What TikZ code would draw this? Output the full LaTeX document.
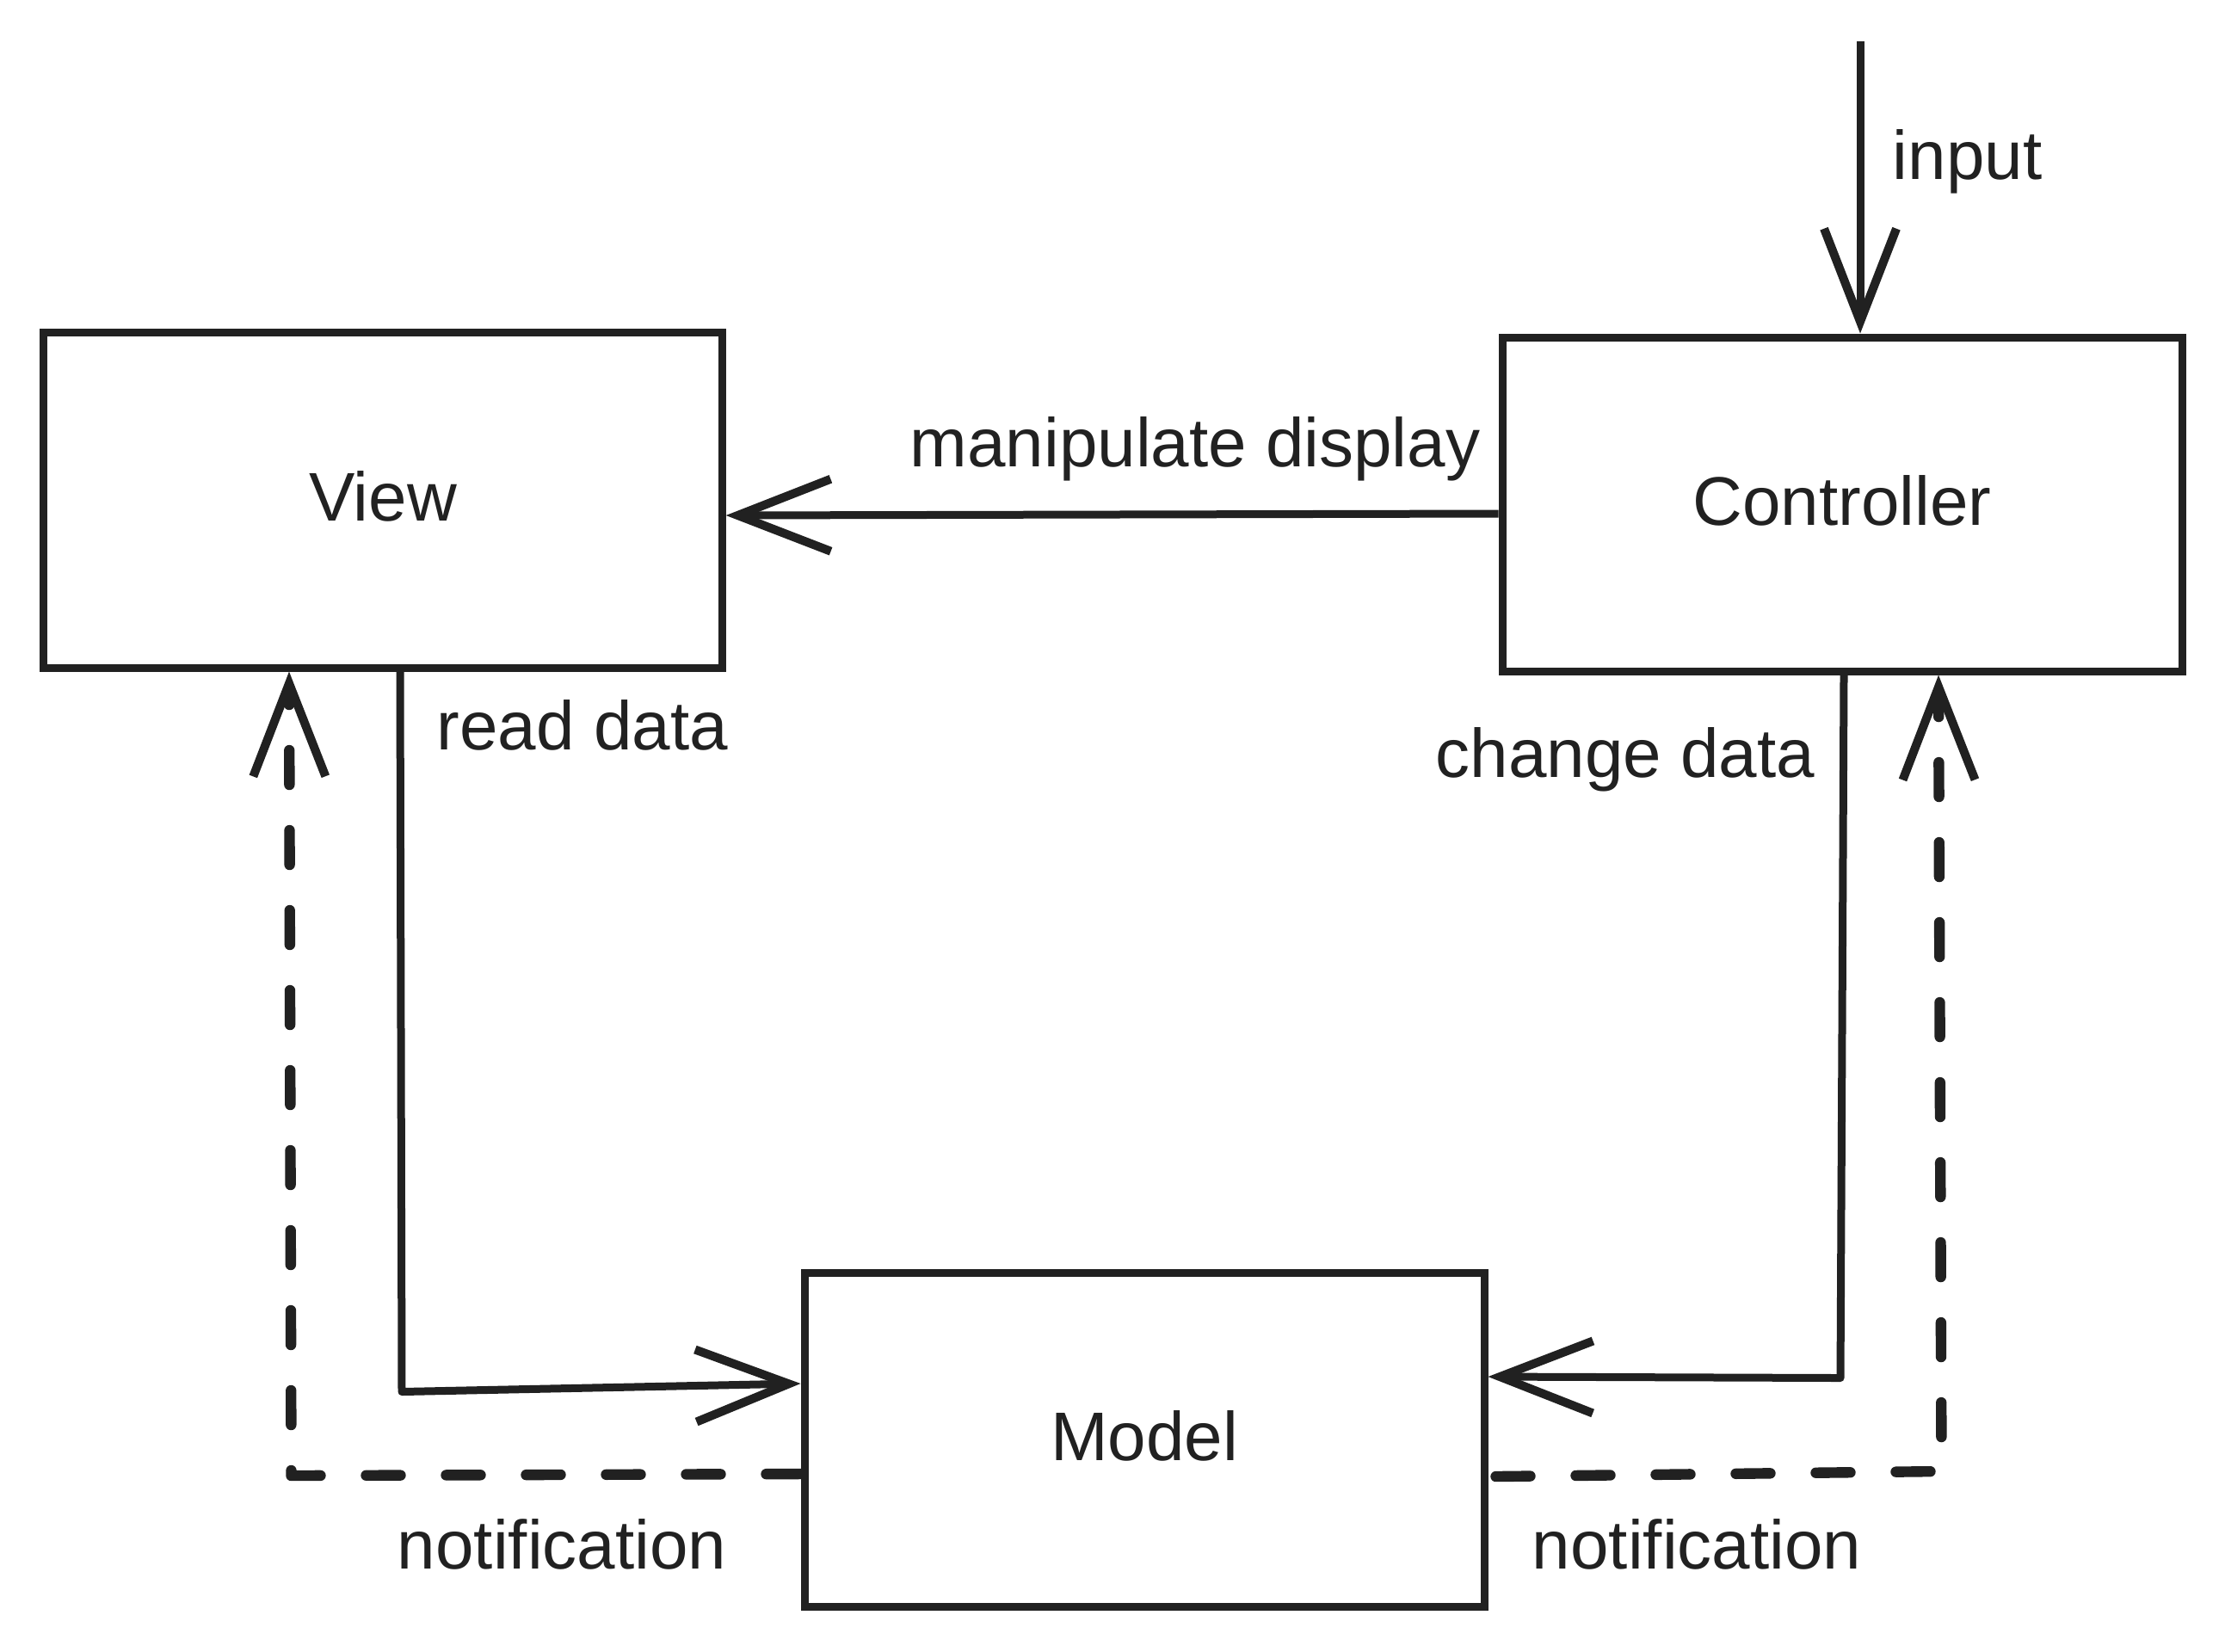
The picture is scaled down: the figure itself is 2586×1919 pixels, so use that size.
\documentclass[tikz,border=0pt]{standalone}
\usepackage{fontspec}
\setmainfont{Liberation Sans}
\usetikzlibrary{arrows.meta,calc}
\definecolor{ink}{RGB}{33,33,33}
\begin{document}
\begin{tikzpicture}[x=0.25pt,y=-0.25pt,
  box/.style={draw=ink, line width=2.25pt, minimum width=197.5pt, minimum height=97pt, inner sep=0pt, text height=12pt, text depth=0pt, font=\fontsize{20pt}{24pt}\selectfont, text=ink},
  lbl/.style={inner sep=0pt, anchor=base west, font=\fontsize{20pt}{24pt}\selectfont, text=ink},
  tipend/.style={-{Straight Barb[length=27pt,width=21pt,line width=2.5pt]}},
  conn/.style={draw=ink, line width=2.25pt, line join=round, tipend},
  notif/.style={draw=ink, line width=3.1pt, line cap=round, line join=round, dash pattern=on 10pt off 13.25pt, tipend}]
\useasboundingbox (0,0) rectangle (2586,1919);

% boxes
\node[box, minimum width=197.1pt, minimum height=97.5pt] (view) at (445,581) {View};
\node[box] (ctrl) at (2141,586) {Controller};
\node[box] (model) at (1330,1673) {Model};

% input
\coordinate (inp) at (2162,48);
\draw[conn] (inp) -- (inp |- ctrl.north);

% manipulate display
\draw[conn] ($(ctrl.west)+(0,11)$) -- ($(view.east)+(0,18)$);

% read data
\draw[conn] ($(view.south)+(20,0)$) -- ++(2,837) -- ($(model.west)+(0,-65)$);

% change data
\draw[conn] ($(ctrl.south)+(2,0)$) -- ++(-4,817) -- ($(model.east)+(0,-73)$);

% notifications
\draw[notif] ($(model.west)+(0,40)$) -- ++(-592,2) -- ($(view.south)+(-109,0)$);
\draw[notif] ($(model.east)+(9,43)$) -- ++(518,-6) -- ($(ctrl.south)+(112,0)$);

% labels
\node[lbl] (linput) at (2199,208) {input};
\node[lbl] (lmanip) at (1057,542) {manipulate display};
\node[lbl] (lread) at (507,871) {read data};
\node[lbl] (lchange) at (1668,903) {change data};
\node[lbl] (lnotl) at (461,1823) {notification};
\node[lbl] (lnotr) at (1780,1823) {notification};
\end{tikzpicture}
\end{document}
